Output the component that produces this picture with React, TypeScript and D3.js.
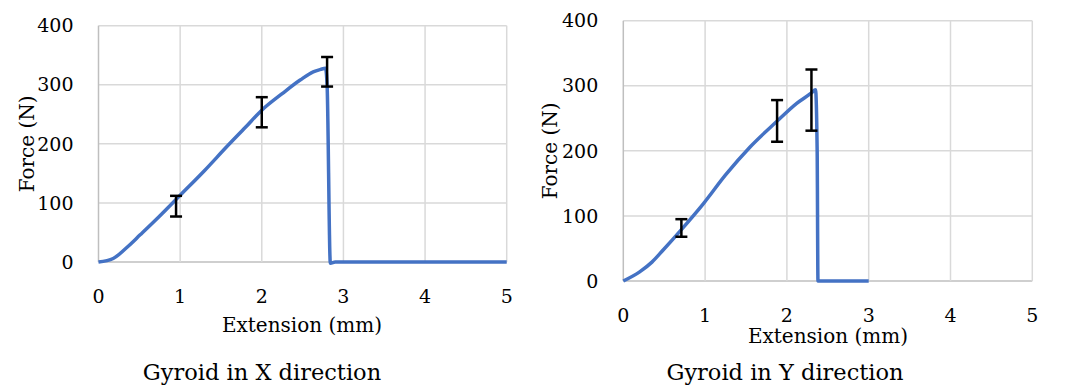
import React from 'react';
import * as d3 from 'd3';

// Extension (mm) / Force (N) readings, X direction
const xDirExt = [0, 0.18, 0.35, 0.51, 0.75, 1.0, 1.3, 1.57, 1.8, 2.0, 2.25, 2.47, 2.63, 2.72, 2.78, 2.8, 2.84, 2.9, 3.5, 4.0, 5.0];
const xDirForce = [0, 6, 25, 46, 78, 113, 155, 195, 228, 257, 285, 308, 322, 326, 328, 300, -2, 0, 0, 0, 0];
const xDirErrX = [0.95, 2.0, 2.8];
const xDirErrLo = [77, 228, 297];
const xDirErrHi = [112, 279, 347];

// Y direction
const yDirExt = [0, 0.2, 0.35, 0.49, 0.71, 0.98, 1.25, 1.55, 1.875, 2.12, 2.3, 2.35, 2.37, 2.38, 2.7, 3.0];
const yDirForce = [0, 14, 29, 48, 79, 119, 163, 206, 245, 273, 289, 294, 200, 0, 0, 0];
const yDirErrX = [0.71, 1.88, 2.3];
const yDirErrLo = [68, 214, 231];
const yDirErrHi = [95, 278, 325];

const xTicks = [0, 1, 2, 3, 4, 5];
const yTicks = [0, 100, 200, 300, 400];

const FONT = '"DejaVu Serif", serif';
const BLUE = '#4472C4';

type PanelProps = {
  left: number; right: number; top: number; bottom: number;
  ext: number[]; force: number[];
  errX: number[]; errLo: number[]; errHi: number[];
  xLabelY: number; yTitleX: number; xTitleX: number; xTitleY: number;
  title: string; titleX: number;
};

const Panel = (p: PanelProps) => {
  const x = d3.scaleLinear().domain([0, 5]).range([p.left, p.right]);
  const y = d3.scaleLinear().domain([0, 400]).range([p.bottom, p.top]);
  const pts = p.ext.map((e, i) => [e, p.force[i]] as [number, number]);
  const line = d3.line<[number, number]>()
    .x(d => x(d[0]))
    .y(d => y(d[1]))
    .curve(d3.curveMonotoneX);

  return (
    <g>
      {yTicks.map(t => (
        <line key={'gy' + t} x1={p.left} x2={p.right} y1={y(t)} y2={y(t)}
          stroke={t === 0 ? '#bfbfbf' : '#d9d9d9'} strokeWidth={1.5} />
      ))}
      {xTicks.map(t => (
        <line key={'gx' + t} x1={x(t)} x2={x(t)} y1={p.top} y2={p.bottom}
          stroke={t === 0 ? '#bfbfbf' : '#d9d9d9'} strokeWidth={1.5} />
      ))}
      {yTicks.map(t => (
        <text key={'ly' + t} x={p.left - 25} y={y(t)} dy="0.35em" textAnchor="end"
          fontFamily={FONT} fontSize={19} fill="#000">{t}</text>
      ))}
      {xTicks.map(t => (
        <text key={'lx' + t} x={x(t)} y={p.xLabelY} dy="0.35em" textAnchor="middle"
          fontFamily={FONT} fontSize={19} fill="#000">{t}</text>
      ))}
      <path d={line(pts) || ''} fill="none" stroke={BLUE} strokeWidth={3.5} strokeLinejoin="round" />
      {p.errX.map((e, i) => (
        <g key={'e' + i} stroke="#000" strokeWidth={2.5}>
          <line x1={x(e)} x2={x(e)} y1={y(p.errLo[i])} y2={y(p.errHi[i])} />
          <line x1={x(e) - 6} x2={x(e) + 6} y1={y(p.errLo[i])} y2={y(p.errLo[i])} />
          <line x1={x(e) - 6} x2={x(e) + 6} y1={y(p.errHi[i])} y2={y(p.errHi[i])} />
        </g>
      ))}
      <text x={p.xTitleX} y={p.xTitleY} dy="0.35em" textAnchor="middle"
        fontFamily={FONT} fontSize={20} fill="#000">Extension (mm)</text>
      <text transform={`translate(${p.yTitleX},${(p.top + p.bottom) / 2}) rotate(-90)`}
        dy="0.35em" textAnchor="middle" fontFamily={FONT} fontSize={20} fill="#000">Force (N)</text>
      <text x={p.titleX} y={372} dy="0.35em" textAnchor="middle"
        fontFamily={FONT} fontSize={22.5} fill="#000">{p.title}</text>
    </g>
  );
};

export default function App() {
  return (
    <svg width={1065} height={390} style={{ position: 'absolute', left: 0, top: 0, background: '#fff' }}>
      <Panel left={98.5} right={506.7} top={25.7} bottom={262}
        ext={xDirExt} force={xDirForce} errX={xDirErrX} errLo={xDirErrLo} errHi={xDirErrHi}
        xLabelY={296} yTitleX={27} xTitleX={302} xTitleY={325}
        title="Gyroid in X direction" titleX={262} />
      <Panel left={623.3} right={1032.3} top={20.7} bottom={281}
        ext={yDirExt} force={yDirForce} errX={yDirErrX} errLo={yDirErrLo} errHi={yDirErrHi}
        xLabelY={315} yTitleX={550} xTitleX={828} xTitleY={336}
        title="Gyroid in Y direction" titleX={785} />
    </svg>
  );
}
